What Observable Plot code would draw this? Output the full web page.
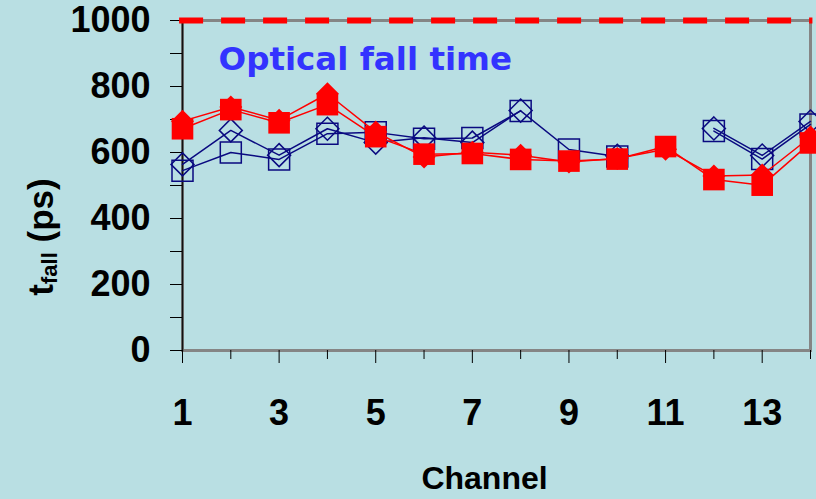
<!DOCTYPE html>
<html><head><meta charset="utf-8">
<script src="https://cdn.jsdelivr.net/npm/d3@7"></script>
<script src="https://cdn.jsdelivr.net/npm/@observablehq/plot@0.6"></script>
<style>
html,body{margin:0;padding:0;background:#b9dfe3;}
#chart{width:816px;height:499px;overflow:hidden;}
</style></head><body><div id="chart"></div>
<script>
const channels = [1,2,3,4,5,6,7,8,9,10,11,12,13,14];
const blueDiamond = [564, 667, 592, 672, 630, 645, 630, 727, null, 590, null, 673, 591, 694];
const blueSquare  = [545, 600, 579, 657, 661, 642, 644, 726, 609, 588, null, 665, 580, 685];
const redDiamond  = [695, 738, 698, 778, 662, 586, 601, 592, 571, 582, 610, 529, 532, 647];
const redSquare   = [672, 730, 690, 745, 648, 595, 597, 579, 574, 580, 618, 518, 501, 629];
const limit = [1000];
const yTickValues = [0,100,200,300,400,500,600,700,800,900,1000];
const yTickLabels = [0,200,400,600,800,1000];
const xMajorTicks = [1,3,5,7,9,11,13];
const xMinorTicks = [2,4,6,8,10,12,14];
const titleText = ["Optical fall time"];
const xLabel = ["Channel"];

const rows = arr => channels.map((c,i)=>({channel:c, value: arr[i] == null ? NaN : arr[i]}));
const diamondSym = {draw(ctx,size){const h=Math.sqrt(size/Math.PI);ctx.moveTo(0,-h);ctx.lineTo(h,0);ctx.lineTo(0,h);ctx.lineTo(-h,0);ctx.closePath();}};
const squareSym = {draw(ctx,size){const h=Math.sqrt(size/Math.PI);ctx.rect(-h,-h,2*h,2*h);}};

const bd = rows(blueDiamond), bs = rows(blueSquare), rd = rows(redDiamond), rs = rows(redSquare);
const navy = "#0a0a80", red = "#ff0000";
const font = "'Liberation Sans', Arial, sans-serif";

const chart = Plot.plot({
  width: 816, height: 499,
  marginLeft: 182, marginTop: 20, marginRight: 6, marginBottom: 149,
  style: {background: "#b9dfe3", fontFamily: font, fontWeight: "bold", color: "black", overflow: "visible"},
  x: {domain: [1,14], axis: null},
  y: {domain: [0,1000], axis: null},
  marks: [
    Plot.frame({stroke: "#858585", strokeWidth: 3}),
    Plot.frame({anchor: "left", stroke: "#111", strokeWidth: 1.5}),
    Plot.axisY({ticks: yTickValues, tickSize: 12, tickPadding: 20, label: null,
      tickFormat: d => yTickLabels.includes(d) ? String(d) : "", fontSize: 36, fontWeight: "bold"}),
    Plot.axisX({ticks: xMajorTicks, tickSize: 13, tickPadding: 36, label: null,
      tickFormat: d => String(d), fontSize: 36, fontWeight: "bold"}),
    Plot.axisX({ticks: xMinorTicks, tickSize: 9, label: null, tickFormat: () => ""}),
    Plot.ruleY(limit, {stroke: red, strokeWidth: 6, strokeDasharray: "24,18", x1: 0.94, x2: 14.05}),
    Plot.line(bd, {x: "channel", y: "value", stroke: navy, strokeWidth: 1.5}),
    Plot.line(bs, {x: "channel", y: "value", stroke: navy, strokeWidth: 1.5}),
    Plot.dot(bd, {x: "channel", y: "value", symbol: diamondSym, r: 11.5, stroke: navy, strokeWidth: 1.5, fill: "none"}),
    Plot.dot(bs, {x: "channel", y: "value", symbol: squareSym, r: 10.5, stroke: navy, strokeWidth: 1.5, fill: "none"}),
    Plot.line(rd, {x: "channel", y: "value", stroke: red, strokeWidth: 1.5}),
    Plot.line(rs, {x: "channel", y: "value", stroke: red, strokeWidth: 1.5}),
    Plot.dot(rd, {x: "channel", y: "value", symbol: diamondSym, r: 11.5, fill: red, stroke: "none"}),
    Plot.dot(rs, {x: "channel", y: "value", symbol: squareSym, r: 10.8, fill: red, stroke: "none"}),
    Plot.text(titleText, {frameAnchor: "top-left", dx: 36, dy: 39, textAnchor: "start", lineAnchor: "middle",
      fill: "#3333ff", fontSize: 32.5, fontWeight: "bold", fontFamily: "'DejaVu Sans', sans-serif"}),
    Plot.text(xLabel, {frameAnchor: "bottom", dx: -12, dy: 128, lineAnchor: "middle",
      fontSize: 32, fontWeight: "bold", fill: "black"})
  ]
});
document.getElementById("chart").appendChild(chart);

// y-axis label with subscript
const svg = d3.select(chart);
const yl = svg.append("text")
  .attr("transform", "translate(53,237) rotate(-90)")
  .attr("text-anchor", "middle")
  .attr("font-family", font).attr("font-weight", "bold").attr("font-size", 35).attr("fill", "black");
yl.append("tspan").text("t");
yl.append("tspan").attr("font-size", 22).attr("dy", 4).text("fall");
yl.append("tspan").attr("dy", -4).text(" (ps)");
</script></body></html>
